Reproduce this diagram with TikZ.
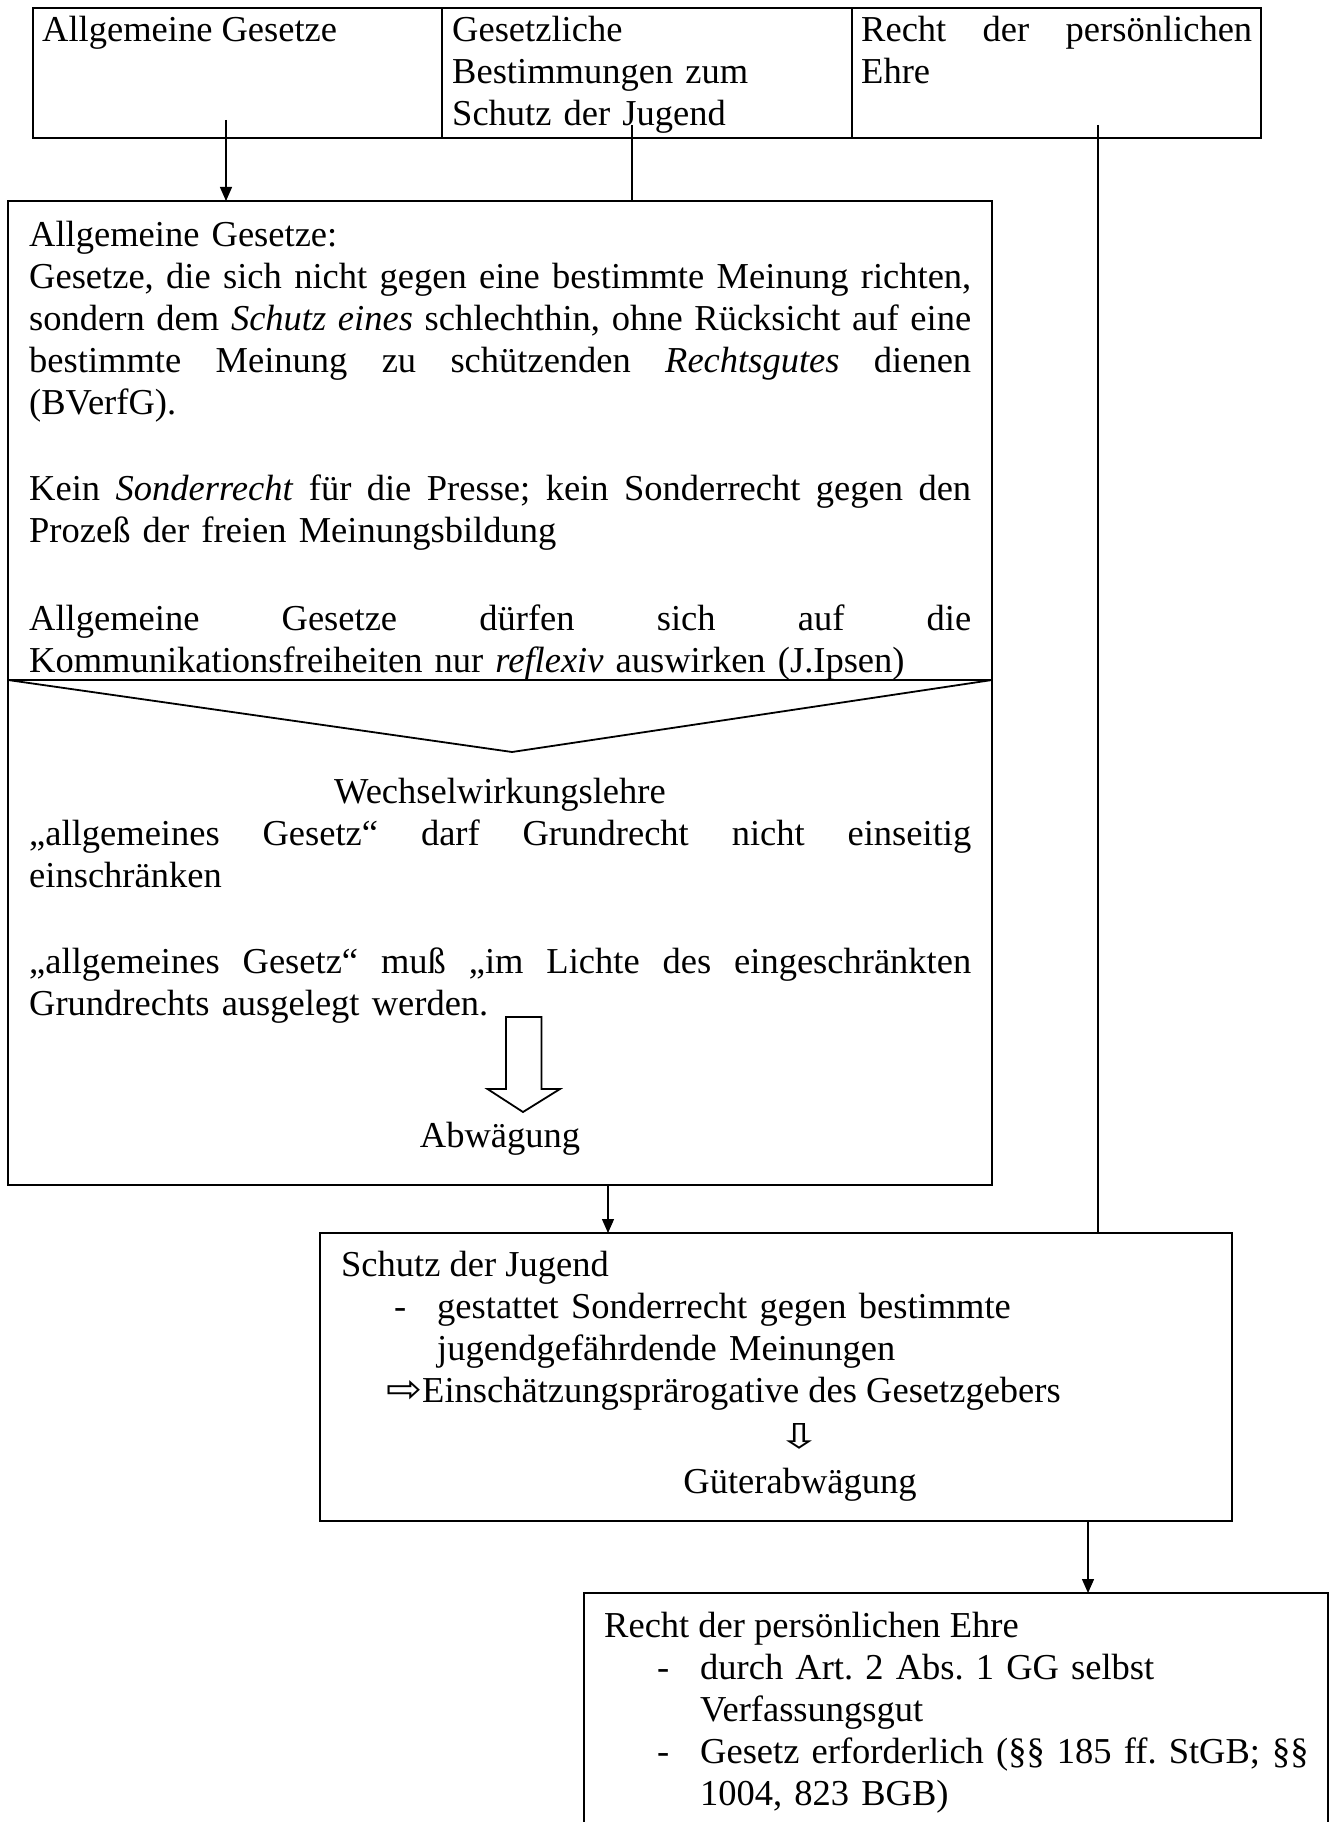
\documentclass[tikz,border=0pt]{standalone}
\usepackage{fontspec}
\usepackage{graphicx}
\setmainfont{Liberation Serif}
\newfontfamily\symfont{DejaVu Sans}
\usetikzlibrary{arrows.meta}

% one justified line of a given width (default: the main box's text width)
\newcommand\jl[2][942pt]{\leavevmode\hbox to #1{\spaceskip=0.25em plus 1fil\relax #2}}

\begin{document}
\frenchspacing
\begin{tikzpicture}[x=1pt,y=-1pt,
  box/.style={draw, line width=2pt, inner sep=0pt, outer sep=0pt, anchor=north west},
  conn/.style={line width=1.3pt},
  arr/.style={conn, -{Triangle[length=14pt,width=12pt]}},
  txt/.style={inner sep=0pt, anchor=base west, align=left,
              font=\fontsize{36.5}{42}\selectfont},
  symb/.style={inner sep=0pt},
]
\fill[white] (0,0) rectangle (1332,1822);
\useasboundingbox (0,0) rectangle (1332,1822);
\clip (0,0) rectangle (1332,1822);

% ---- top row: three sources of limitation
\node[box, minimum width=1228pt, minimum height=130pt] (toprow) at (33,8) {};
\draw[line width=2pt] (442,8) -- (442,138);
\draw[line width=2pt] (852,8) -- (852,138);
\node[txt] (t1) at (42,42) {Allgemeine Gesetze};
\node[txt, text width=392pt] (t2) at (452,42) {Gesetzliche\\Bestimmungen zum\\Schutz der Jugend};
\node[txt, text width=391pt] (t3) at (861,42) {\jl[391pt]{Recht der persönlichen}\\Ehre};

% ---- main box: allgemeine Gesetze
\node[box, minimum width=984pt, minimum height=984pt] (allg) at (8,201) {};
\node[txt, text width=942pt] (p1) at (29,246) {Allgemeine Gesetze:\\
\jl{Gesetze, die sich nicht gegen eine bestimmte Meinung richten,}\\
\jl{sondern dem \textit{Schutz eines} schlechthin, ohne Rücksicht auf eine}\\
\jl{bestimmte Meinung zu schützenden \textit{Rechtsgutes} dienen}\\
(BVerfG).};
\node[txt, text width=942pt] (p2) at (29,500) {\jl{Kein \textit{Sonderrecht} für die Presse; kein Sonderrecht gegen den}\\Prozeß der freien Meinungsbildung};
\node[txt, text width=942pt] (p3) at (29,630) {\jl{Allgemeine Gesetze dürfen sich auf die}\\Kommunikationsfreiheiten nur \textit{reflexiv} auswirken (J.Ipsen)};

% funnel
\draw[line width=2.6pt] (8,680) -- (992,680);
\draw[line width=1.8pt] (8,680) -- (512,752) -- (992,680);

\node[txt, anchor=base] (p4) at (500,803) {Wechselwirkungslehre};
\node[txt, text width=942pt] (p5) at (29,845) {\jl{„allgemeines Gesetz“ darf Grundrecht nicht einseitig}\\einschränken};
\node[txt, text width=942pt] (p6) at (29,973) {\jl{„allgemeines Gesetz“ muß „im Lichte des eingeschränkten}\\Grundrechts ausgelegt werden.};

% hollow block arrow
\draw[line width=1.8pt, fill=white] (506,1017) -- (541.5,1017) -- (541.5,1089) -- (560,1089)
  -- (523,1112) -- (487.5,1089) -- (506,1089) -- cycle;
\node[txt, anchor=base] (p7) at (500,1147) {Abwägung};

% ---- Schutz der Jugend
\node[box, minimum width=912pt, minimum height=288pt] (schutz) at (320,1233) {};
\node[txt] (j1) at (341,1276) {Schutz der Jugend};
\node[txt] (j2) at (394,1318) {-};
\node[txt, text width=780pt] (j3) at (437,1318) {gestattet Sonderrecht gegen bestimmte\\jugendgefährdende Meinungen};
\node[txt] (j4) at (386,1402) {\resizebox{36pt}{22pt}{\symfont ⇨}Einschätzungsprärogative des Gesetzgebers};
\node[symb] (j5) at (799.5,1436) {\resizebox{44pt}{25pt}{\symfont ⇩}};
\node[txt, anchor=base] (j6) at (800,1493) {Güterabwägung};

% ---- Recht der persönlichen Ehre
\node[box, minimum width=744pt, minimum height=280pt] (recht) at (584,1593) {};
\node[txt] (r1) at (604,1637) {Recht der persönlichen Ehre};
\node[txt] (r2) at (657,1679) {-};
\node[txt, text width=620pt] (r3) at (700,1679) {durch Art. 2 Abs. 1 GG selbst\\Verfassungsgut};
\node[txt] (r4) at (657,1763) {-};
\node[txt, text width=620pt] (r5) at (700,1763) {Gesetz erforderlich (§§ 185 ff. StGB; §§\\1004, 823 BGB)};

% ---- connectors
\coordinate (s1) at (226,120);
\coordinate (s2) at (632,125);
\coordinate (s3) at (1098,125);
\coordinate (s4) at (608,0);
\coordinate (s5) at (1088,0);
\draw[arr]  (s1) -- (s1 |- allg.north);
\draw[conn] (s2) -- (s2 |- allg.north);
\draw[conn] (s3) -- (s3 |- schutz.north);
\draw[arr]  (s4 |- allg.south) -- (s4 |- schutz.north);
\draw[arr]  (s5 |- schutz.south) -- (s5 |- recht.north);
\end{tikzpicture}
\end{document}
